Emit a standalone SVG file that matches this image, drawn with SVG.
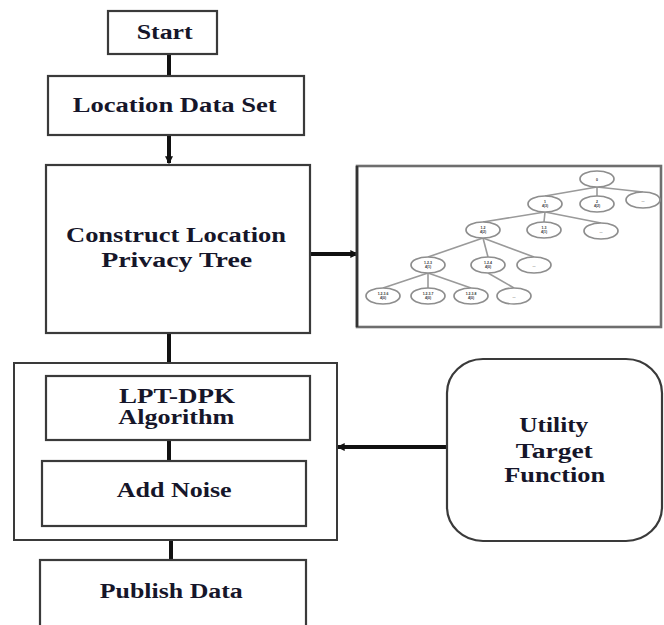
<svg xmlns="http://www.w3.org/2000/svg" width="664" height="625" viewBox="0 0 664 625">
  <defs>
    <style>
      .box { fill: #fff; stroke: #3a3a3a; stroke-width: 2.2; }
      .frame { fill: none; stroke: #3a3a3a; stroke-width: 2; }
      .lbl { font-family: "Liberation Serif", "Times New Roman", serif; font-weight: bold; font-size: 20px; fill: #16162a; text-anchor: middle; }
      .wire { stroke: #111; stroke-width: 4; fill: none; }
      .edge { stroke: #9a9a9a; stroke-width: 1.6; fill: none; }
      .tnode { fill: #fff; stroke: #8e8e8e; stroke-width: 1.7; }
      .tl { font-family: "Liberation Sans", Arial, sans-serif; font-size: 3.5px; font-weight: bold; fill: #333; text-anchor: middle; }
    </style>
    <marker id="head" viewBox="0 0 6 6" refX="5" refY="3" markerWidth="2" markerHeight="2" orient="auto">
      <path d="M0,0 L6,3 L0,6 Z" fill="#111"/>
    </marker>
  </defs>

  <rect width="664" height="625" fill="#fff"/>

  <!-- connectors -->
  <g id="connectors">
    <line class="wire" x1="169" y1="54" x2="169" y2="76"/>
    <line class="wire" x1="169" y1="135" x2="169" y2="163" marker-end="url(#head)"/>
    <line class="wire" x1="310" y1="254" x2="357" y2="254" marker-end="url(#head)"/>
    <line class="wire" x1="169" y1="333" x2="169" y2="363"/>
    <line class="wire" x1="169" y1="440" x2="169" y2="461"/>
    <line class="wire" x1="171" y1="540" x2="171" y2="560"/>
    <line class="wire" x1="447" y1="447" x2="338" y2="447" stroke-width="3.5" marker-end="url(#head)"/>
  </g>

  <g id="start">
    <rect class="box" x="108" y="11" width="109" height="43"/>
    <text class="lbl" x="164.7" y="39" textLength="56" lengthAdjust="spacingAndGlyphs">Start</text>
  </g>

  <g id="location-data-set">
    <rect class="box" x="48" y="76" width="256" height="59"/>
    <text class="lbl" x="174.7" y="112" textLength="204" lengthAdjust="spacingAndGlyphs">Location Data Set</text>
  </g>

  <g id="construct-tree">
    <rect class="box" x="46" y="165" width="264" height="168"/>
    <text class="lbl" x="176" y="242" font-size="21" textLength="220" lengthAdjust="spacingAndGlyphs">Construct Location</text>
    <text class="lbl" x="176.7" y="267" font-size="21" textLength="151" lengthAdjust="spacingAndGlyphs">Privacy Tree</text>
  </g>

  <!-- location privacy tree panel -->
  <g id="tree-panel">
    <rect x="357" y="166" width="304" height="161" fill="#fff" stroke="#6e6e6e" stroke-width="2.6"/>
    <line x1="357" y1="166" x2="357" y2="327" stroke="#333" stroke-width="2.6"/>
    <g id="tree-edges">
      <line class="edge" x1="597" y1="187" x2="545" y2="196"/>
      <line class="edge" x1="597" y1="187" x2="597" y2="196"/>
      <line class="edge" x1="597" y1="187" x2="643" y2="192"/>
      <line class="edge" x1="545" y1="212" x2="483" y2="222"/>
      <line class="edge" x1="545" y1="212" x2="544" y2="222"/>
      <line class="edge" x1="545" y1="212" x2="601" y2="223"/>
      <line class="edge" x1="483" y1="238" x2="428" y2="257"/>
      <line class="edge" x1="483" y1="238" x2="488" y2="257"/>
      <line class="edge" x1="483" y1="238" x2="534" y2="257"/>
      <line class="edge" x1="428" y1="273" x2="383" y2="288"/>
      <line class="edge" x1="428" y1="273" x2="428" y2="288"/>
      <line class="edge" x1="428" y1="273" x2="471" y2="288"/>
      <line class="edge" x1="488" y1="273" x2="514" y2="288"/>
    </g>
    <g id="tree-nodes">
      <ellipse class="tnode" cx="597" cy="179" rx="17" ry="8"/>
      <text class="tl" x="597" y="181">0</text>

      <ellipse class="tnode" cx="545" cy="204" rx="17" ry="8"/>
      <text class="tl" x="545" y="203">1</text><text class="tl" x="545" y="207">4(3)</text>
      <ellipse class="tnode" cx="597" cy="204" rx="17" ry="8"/>
      <text class="tl" x="597" y="203">2</text><text class="tl" x="597" y="207">4(2)</text>
      <ellipse class="tnode" cx="643" cy="200" rx="17" ry="8"/>
      <text class="tl" x="643" y="202">...</text>

      <ellipse class="tnode" cx="483" cy="230" rx="17" ry="8"/>
      <text class="tl" x="483" y="229">1.2</text><text class="tl" x="483" y="233">4(2)</text>
      <ellipse class="tnode" cx="544" cy="230" rx="17" ry="8"/>
      <text class="tl" x="544" y="229">1.3</text><text class="tl" x="544" y="233">4(1)</text>
      <ellipse class="tnode" cx="601" cy="231" rx="17" ry="8"/>
      <text class="tl" x="601" y="233">...</text>

      <ellipse class="tnode" cx="428" cy="265" rx="17" ry="8"/>
      <text class="tl" x="428" y="264">1.2.3</text><text class="tl" x="428" y="268">4(1)</text>
      <ellipse class="tnode" cx="488" cy="265" rx="17" ry="8"/>
      <text class="tl" x="488" y="264">1.2.4</text><text class="tl" x="488" y="268">4(0)</text>
      <ellipse class="tnode" cx="534" cy="265" rx="17" ry="8"/>
      <text class="tl" x="534" y="267">...</text>

      <ellipse class="tnode" cx="383" cy="296" rx="17" ry="8"/>
      <text class="tl" x="383" y="295">1.2.3.6</text><text class="tl" x="383" y="299">4(0)</text>
      <ellipse class="tnode" cx="428" cy="296" rx="17" ry="8"/>
      <text class="tl" x="428" y="295">1.2.3.7</text><text class="tl" x="428" y="299">4(0)</text>
      <ellipse class="tnode" cx="471" cy="296" rx="17" ry="8"/>
      <text class="tl" x="471" y="295">1.2.3.8</text><text class="tl" x="471" y="299">4(0)</text>
      <ellipse class="tnode" cx="514" cy="296" rx="17" ry="8"/>
      <text class="tl" x="514" y="298">...</text>
    </g>
  </g>

  <!-- outer frame around the algorithm steps -->
  <g id="algorithm-frame">
    <rect class="frame" x="14" y="363" width="323" height="177"/>
  </g>

  <g id="lpt-dpk">
    <rect class="box" x="46" y="376" width="264" height="64"/>
    <text class="lbl" x="177" y="403" textLength="116" lengthAdjust="spacingAndGlyphs">LPT-DPK</text>
    <text class="lbl" x="176.3" y="424" textLength="116" lengthAdjust="spacingAndGlyphs">Algorithm</text>
  </g>

  <g id="add-noise">
    <rect class="box" x="42" y="461" width="264" height="65"/>
    <text class="lbl" x="174.2" y="497" textLength="115" lengthAdjust="spacingAndGlyphs">Add Noise</text>
  </g>

  <g id="publish-data">
    <rect class="box" x="40" y="560" width="266" height="75"/>
    <text class="lbl" x="171.3" y="598" textLength="143" lengthAdjust="spacingAndGlyphs">Publish Data</text>
  </g>

  <g id="utility-target">
    <rect class="box" x="447" y="359" width="215" height="182" rx="36" ry="34"/>
    <text class="lbl" x="553.8" y="432" textLength="69" lengthAdjust="spacingAndGlyphs">Utility</text>
    <text class="lbl" x="554.3" y="458" textLength="77" lengthAdjust="spacingAndGlyphs">Target</text>
    <text class="lbl" x="554.7" y="482" textLength="101" lengthAdjust="spacingAndGlyphs">Function</text>
  </g>
</svg>
